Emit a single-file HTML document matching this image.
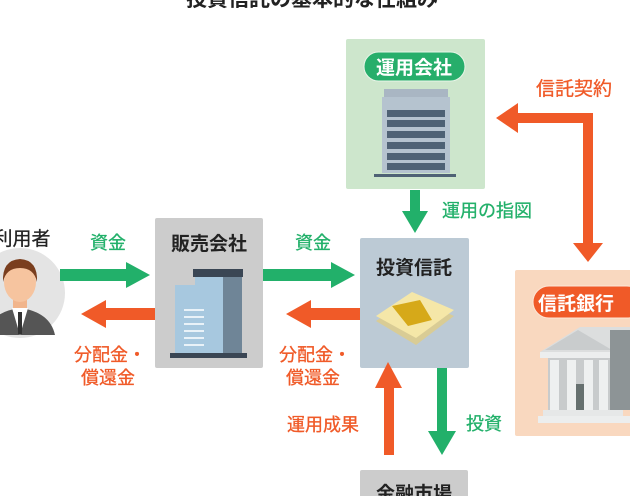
<!DOCTYPE html>
<html><head><meta charset="utf-8"><style>
html,body{margin:0;padding:0;background:#fff;width:630px;height:496px;overflow:hidden}
svg text{font-family:"Liberation Sans","Noto Sans CJK JP",sans-serif}
</style></head><body>
<svg width="630" height="496" viewBox="0 0 630 496" xmlns="http://www.w3.org/2000/svg">
<text x="312" y="6" font-size="21" font-weight="bold" text-anchor="middle" fill="#222">投資信託の基本的な仕組み</text>

<!-- 運用会社 -->
<rect x="346" y="39" width="139" height="150" fill="#cde6cc" rx="2"/>
<rect x="364" y="52" width="101" height="29" rx="14.5" fill="#27ae6b" stroke="#e8f5e8" stroke-width="1"/>
<text x="414" y="74" font-size="19" font-weight="bold" fill="#fff" text-anchor="middle">運用会社</text>
<rect x="384" y="89" width="64" height="8" fill="#a9b6c3"/>
<rect x="382" y="97" width="68" height="76" fill="#b5c3cf"/>
<g fill="#4f6275">
<rect x="387" y="110" width="58" height="7"/><rect x="387" y="120" width="58" height="7"/>
<rect x="387" y="131" width="58" height="7"/><rect x="387" y="142" width="58" height="7"/>
<rect x="387" y="153" width="58" height="7"/><rect x="387" y="163" width="58" height="7"/>
</g>
<rect x="374" y="174" width="82" height="3" fill="#4f6275"/>

<!-- green down 運用の指図 -->
<rect x="410" y="190" width="10" height="22" fill="#22b06a"/>
<polygon points="402,211 428,211 415,233" fill="#22b06a"/>
<text x="442" y="217" font-size="18" fill="#22b06a" stroke="#22b06a" stroke-width="0.3">運用の指図</text>

<!-- 信託契約 -->
<text x="536" y="95" font-size="19" fill="#f05a28" stroke="#f05a28" stroke-width="0.3">信託契約</text>
<polygon points="496,118 518,103 518,113 593,113 593,243 603,243 588,262 573,243 583,243 583,123 518,123 518,133" fill="#f05a28"/>

<!-- person -->
<circle cx="20" cy="293" r="45" fill="#e4e4e4"/>
<path d="M-15,335 Q-10,312 20,308 Q50,312 55,335 Z" fill="#555"/>
<path d="M12,308 L20,335 L28,308 Z" fill="#fff"/>
<rect x="18" y="312" width="4" height="22" fill="#333"/>
<rect x="13" y="296" width="14" height="12" fill="#f1b58c"/>
<ellipse cx="20" cy="282" rx="16" ry="20" fill="#f6c49f"/>
<path d="M3,282 Q2,260 20,259 Q38,260 37,282 Q34,268 20,268 Q6,268 3,282Z" fill="#7a3e1e"/>
<text x="22" y="245" font-size="19" fill="#222" text-anchor="middle" stroke="#222" stroke-width="0.3">利用者</text>

<!-- 販売会社 -->
<rect x="155" y="218" width="108" height="150" fill="#cccccc" rx="2"/>
<text x="209" y="250" font-size="19" font-weight="bold" fill="#222" text-anchor="middle">販売会社</text>
<rect x="193" y="269" width="50" height="8" fill="#3a4654"/>
<rect x="175" y="285" width="50" height="70" fill="#a7c8df"/>
<rect x="195" y="277" width="47" height="78" fill="#6f8597"/>
<rect x="195" y="277" width="28" height="78" fill="#a7c8df"/>
<rect x="170" y="353" width="77" height="5" fill="#3a4654"/>
<g fill="#e9f2f8"><rect x="184" y="309" width="20" height="2"/><rect x="184" y="316" width="20" height="2"/><rect x="184" y="323" width="20" height="2"/><rect x="184" y="330" width="20" height="2"/><rect x="184" y="337" width="20" height="2"/><rect x="184" y="344" width="20" height="2"/></g>

<g stroke-width="0.3">
<!-- arrows person <-> 販売 -->
<text x="108" y="249" font-size="18" fill="#22b06a" stroke="#22b06a" text-anchor="middle">資金</text>
<rect x="60" y="269" width="68" height="12" fill="#22b06a"/>
<polygon points="126,262 150,275 126,288" fill="#22b06a"/>
<rect x="105" y="308" width="50" height="12" fill="#f05a28"/>
<polygon points="106,300 81,314 106,328" fill="#f05a28"/>
<text x="110" y="361" font-size="18" fill="#f05a28" stroke="#f05a28" text-anchor="middle">分配金・</text>
<text x="108" y="384" font-size="18" fill="#f05a28" stroke="#f05a28" text-anchor="middle">償還金</text>

<!-- arrows 販売 <-> 投資信託 -->
<text x="313" y="249" font-size="18" fill="#22b06a" stroke="#22b06a" text-anchor="middle">資金</text>
<rect x="263" y="269" width="70" height="12" fill="#22b06a"/>
<polygon points="331,262 355,275 331,288" fill="#22b06a"/>
<rect x="310" y="308" width="50" height="12" fill="#f05a28"/>
<polygon points="311,300 286,314 311,328" fill="#f05a28"/>
<text x="315" y="361" font-size="18" fill="#f05a28" stroke="#f05a28" text-anchor="middle">分配金・</text>
<text x="313" y="384" font-size="18" fill="#f05a28" stroke="#f05a28" text-anchor="middle">償還金</text>
</g>

<!-- 投資信託 -->
<rect x="360" y="238" width="109" height="130" fill="#bccad5" rx="2"/>
<text x="414" y="274" font-size="19" font-weight="bold" fill="#222" text-anchor="middle">投資信託</text>
<polygon points="376,321 412,297 454,316 416,345" fill="#d9cc95"/>
<polygon points="376,316 412,292 454,310 416,338" fill="#f5e7a8"/>
<polygon points="392,306 420,300 432,320 408,326" fill="#d6a919"/>

<!-- up orange / down green -->
<rect x="384" y="386" width="10" height="69" fill="#f05a28"/>
<polygon points="375,388 388,362 402,388" fill="#f05a28"/>
<text x="323" y="431" font-size="18" fill="#f05a28" stroke="#f05a28" stroke-width="0.3" text-anchor="middle">運用成果</text>
<rect x="437" y="368" width="10" height="64" fill="#22b06a"/>
<polygon points="428,431 442,455 456,431" fill="#22b06a"/>
<text x="484" y="430" font-size="18" fill="#22b06a" stroke="#22b06a" stroke-width="0.3" text-anchor="middle">投資</text>

<!-- 金融市場 -->
<rect x="360" y="470" width="108" height="40" fill="#cccccc" rx="2"/>
<text x="414" y="500" font-size="19" font-weight="bold" fill="#222" text-anchor="middle">金融市場</text>

<!-- 信託銀行 -->
<rect x="515" y="270" width="120" height="166" fill="#f9d8bf" rx="2"/>
<rect x="533" y="286" width="110" height="32" rx="16" fill="#f05a28" stroke="#fde7d8" stroke-width="1"/>
<text x="538" y="310" font-size="19" font-weight="bold" fill="#fff">信託銀行</text>
<polygon points="540,352 580,327 630,327 630,352" fill="#dcdede"/>
<polygon points="545,350 578,330 612,350" fill="#c9cccd"/>
<rect x="540" y="352" width="95" height="6" fill="#eceeee"/>
<rect x="610" y="330" width="25" height="80" fill="#8d9496"/>
<rect x="548" y="358" width="62" height="52" fill="#c8cbcc"/>
<g fill="#eef0f0"><rect x="550" y="360" width="9" height="50"/><rect x="567" y="360" width="9" height="50"/><rect x="584" y="360" width="9" height="50"/><rect x="599" y="360" width="9" height="50"/></g>
<rect x="576" y="384" width="8" height="26" fill="#66706f"/>
<rect x="543" y="410" width="80" height="6" fill="#e6e8e8"/>
<rect x="538" y="416" width="92" height="7" fill="#eceeee"/>
</svg>
</body></html>
